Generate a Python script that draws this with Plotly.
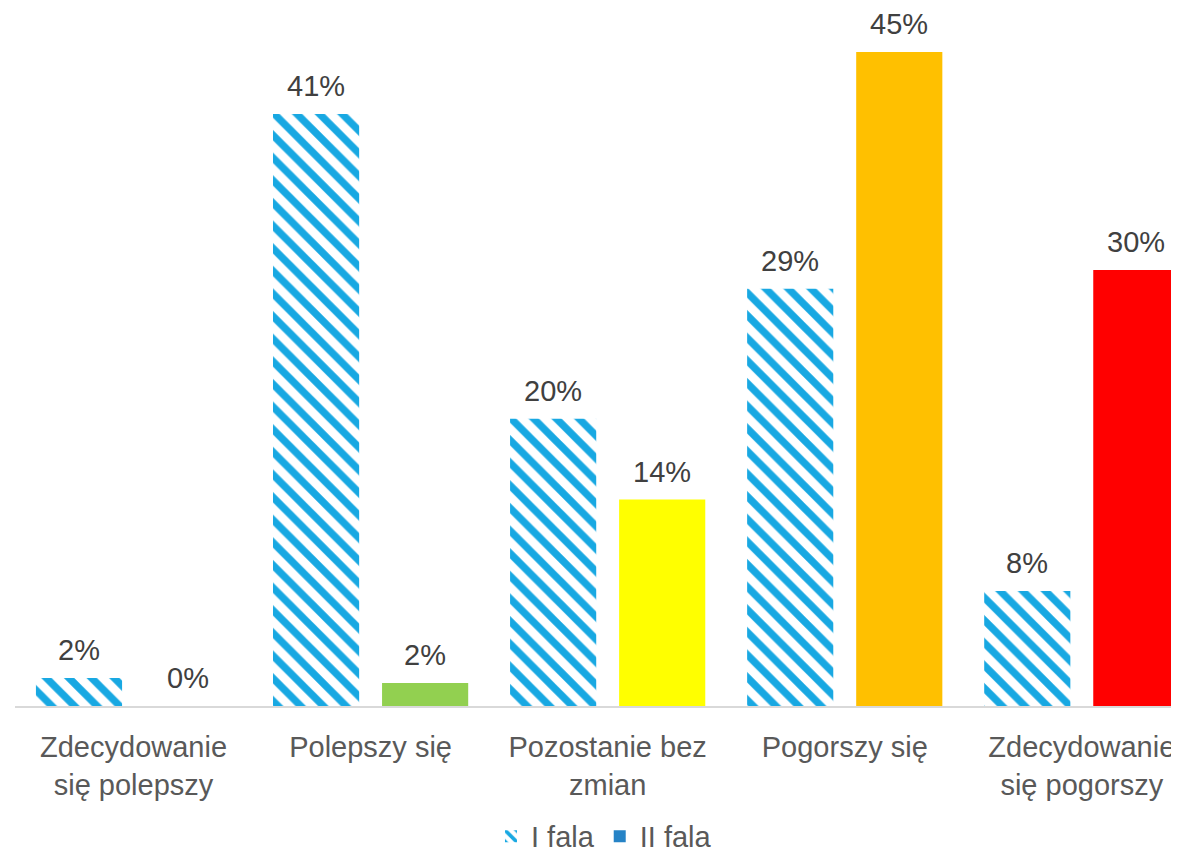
import plotly.graph_objects as go

categories = ["Zdecydowanie<br>się polepszy", "Polepszy się", "Pozostanie bez<br>zmian", "Pogorszy się", "Zdecydowanie<br>się pogorszy"]
fala1_values = [1.94, 41.0, 19.9, 28.9, 7.96]
fala1_labels = ["2%", "41%", "20%", "29%", "8%"]
fala2_values = [0.0, 1.6, 14.3, 45.3, 30.2]
fala2_labels = ["0%", "2%", "14%", "45%", "30%"]
fala2_colors = ["#2683C6", "#92D050", "#FFFF00", "#FFC000", "#FF0000"]

FONT = "Liberation Sans"
FS = 29
fig = go.Figure()
fig.add_trace(go.Bar(
    name="I fala", x=categories, y=fala1_values,
    marker=dict(color="white", line=dict(width=0),
                pattern=dict(shape="\\", fgcolor="#18A8E2", bgcolor="white", size=16,
                             solidity=0.46, fgopacity=1)),
))
fig.add_trace(go.Bar(
    name="II fala", x=categories, y=fala2_values,
    marker=dict(color=fala2_colors, line=dict(width=0)),
))

annotations = []
for vals, labels, xs in ((fala1_values, fala1_labels, -54.5), (fala2_values, fala2_labels, 54.5)):
    for c, v, t in zip(categories, vals, labels):
        annotations.append(dict(x=c, y=v, text=t, showarrow=False, xshift=xs, yshift=10,
                                yanchor="bottom", xanchor="center",
                                font=dict(size=FS, color="#404040", family=FONT)))

fig.update_layout(
    width=1171, height=845,
    margin=dict(l=7, r=0, t=5, b=147, autoexpand=False),
    paper_bgcolor="white", plot_bgcolor="white",
    barmode="group", bargap=0.08, bargroupgap=0.21,
    font=dict(family=FONT, color="#595959", size=FS),
    showlegend=True,
    legend=dict(orientation="h", x=0.506, xanchor="center", y=-0.188, yanchor="middle",
                bgcolor="rgba(0,0,0,0)", itemwidth=30,
                font=dict(size=FS, color="#595959", family=FONT)),
    annotations=annotations,
)
fig.update_xaxes(range=[-0.5, 4.41], showline=True, linecolor="#D9D9D9", linewidth=2,
                 ticks="", ticklabelstandoff=14, automargin=False,
                 tickfont=dict(size=FS, color="#595959", family=FONT), showgrid=False)
fig.update_yaxes(range=[0, 48], visible=False, showgrid=False, automargin=False)
fig.write_html("out.html")
